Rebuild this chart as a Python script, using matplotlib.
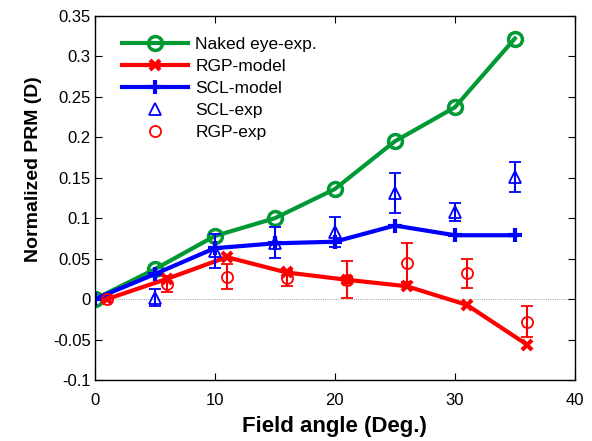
import numpy as np
import matplotlib
matplotlib.use('Agg')
import matplotlib.pyplot as plt

plt.rcParams['font.family'] = ['Liberation Sans', 'DejaVu Sans']

# naked eye
x_eye = [0, 5, 10, 15, 20, 25, 30, 35]
y_eye = [0, 0.037, 0.078, 0.100, 0.136, 0.195, 0.237, 0.322]

# RGP model (shifted by 1 deg)
x_rgp_mod = [1, 6, 11, 16, 21, 26, 31, 36]
y_rgp_mod = [0, 0.025, 0.052, 0.033, 0.024, 0.016, -0.007, -0.056]

# SCL model
x_scl_mod = [0, 5, 10, 15, 20, 25, 30, 35]
y_scl_mod = [0, 0.031, 0.063, 0.069, 0.071, 0.091, 0.079, 0.079]

# SCL experiment
x_scl_exp = [5, 10, 15, 20, 25, 30, 35]
y_scl_exp = [0.002, 0.059, 0.070, 0.083, 0.131, 0.108, 0.151]
e_scl_exp = [0.010, 0.021, 0.019, 0.018, 0.025, 0.011, 0.018]

# RGP experiment
x_rgp_exp = [1, 6, 11, 16, 21, 26, 31, 36]
y_rgp_exp = [0, 0.019, 0.028, 0.026, 0.024, 0.045, 0.032, -0.028]
e_rgp_exp = [0, 0.010, 0.016, 0.010, 0.023, 0.024, 0.018, 0.019]

fig = plt.figure(figsize=(5.92, 4.41), dpi=100)
ax = fig.add_axes([0.16, 0.138, 0.811, 0.826])

ax.axhline(0, color='gray', lw=0.6, ls=':', zorder=0)

ax.plot(x_eye, y_eye, color='#009933', lw=3, marker='o', ms=10, mfc='none',
        mew=2.5, label='Naked eye-exp.')
ax.plot(x_rgp_mod, y_rgp_mod, color='red', lw=3, marker='x', ms=7,
        mew=3, label='RGP-model')
ax.plot(x_scl_mod, y_scl_mod, color='blue', lw=3, marker='+', ms=10,
        mew=3, label='SCL-model')
ax.errorbar(x_scl_exp, y_scl_exp, yerr=e_scl_exp, fmt='^', color='blue',
            mfc='none', ms=8, mew=1.3, elinewidth=1.5, capsize=4, capthick=1.5,
            label='SCL-exp')
ax.errorbar(x_rgp_exp, y_rgp_exp, yerr=e_rgp_exp, fmt='o', color='red',
            mfc='none', ms=8, mew=1.3, elinewidth=1.5, capsize=4, capthick=1.5,
            label='RGP-exp')

ax.set_xlim(0, 40)
ax.set_ylim(-0.1, 0.35)
ax.set_xticks([0, 10, 20, 30, 40])
ax.set_yticks(np.arange(-0.1, 0.351, 0.05))
ax.set_yticklabels(['-0.1', '-0.05', '0', '0.05', '0.1', '0.15', '0.2',
                    '0.25', '0.3', '0.35'])
ax.tick_params(direction='in', top=True, right=True, labelsize=12, length=5)
ax.tick_params(axis='x', pad=9)
ax.tick_params(axis='y', pad=3)
for s in ax.spines.values():
    s.set_linewidth(1)

ax.set_xlabel('Field angle (Deg.)', fontsize=16, fontweight='bold', labelpad=6)
ax.set_ylabel('Normalized PRM (D)', fontsize=14, fontweight='bold')
ax.yaxis.set_label_coords(-0.11, 0.58)

h, l = ax.get_legend_handles_labels()
h = [hh[0] if isinstance(hh, matplotlib.container.ErrorbarContainer) else hh for hh in h]
ax.legend(h, l, loc='upper left', frameon=False, fontsize=12.5, handlelength=3.8,
          handletextpad=0.45, borderaxespad=0.6, labelspacing=0.4,
          bbox_to_anchor=(0.02, 0.99))

fig.savefig('out.png', dpi=100)
